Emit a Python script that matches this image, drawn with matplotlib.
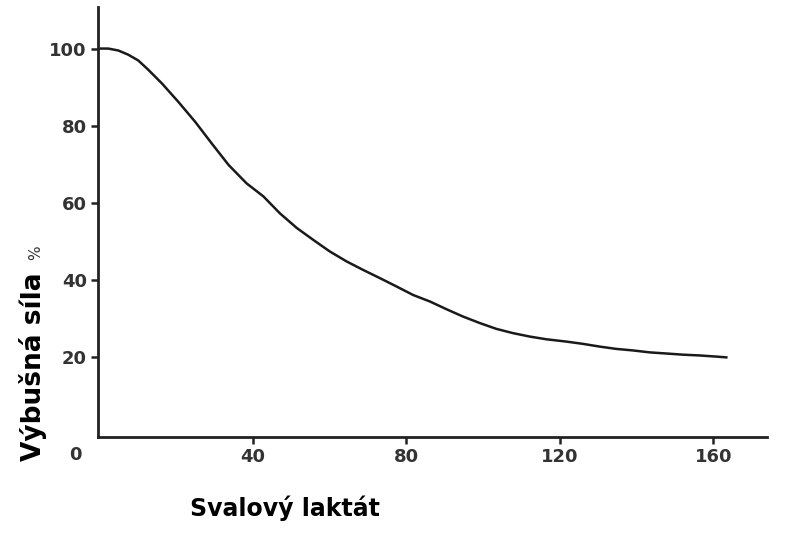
import matplotlib
matplotlib.use("Agg")
from matplotlib import pyplot as plt

# curve values
laktat = [0, 2.4, 5.0, 7.6, 10.2, 12.8, 16.3, 20.6, 25.0, 29.3, 33.7, 38.4, 42.8,
          47.1, 51.5, 55.8, 60.1, 64.5, 68.8, 73.1, 77.5, 81.8, 86.2, 90.5, 94.8,
          99.2, 103.5, 107.8, 112.2, 116.5, 121.7, 126.1, 130.4, 134.7, 139.1,
          143.4, 147.8, 152.1, 156.4, 160.8, 163.4]
sila = [100, 100.0, 99.5, 98.4, 96.9, 94.5, 91.0, 86.2, 81.0, 75.4, 69.8, 65.0, 61.6,
        57.2, 53.4, 50.3, 47.3, 44.7, 42.5, 40.4, 38.2, 36.0, 34.3, 32.3, 30.4,
        28.7, 27.2, 26.1, 25.2, 24.5, 23.9, 23.3, 22.6, 22.0, 21.6,
        21.1, 20.8, 20.5, 20.3, 20.0, 19.8]
xticks = [40, 80, 120, 160]
yticks = [20, 40, 60, 80, 100]

fig = plt.figure(figsize=(8, 5.33), dpi=100)
ax = fig.add_axes([0.1225, 0.1807, 0.83625, 0.8062])

ax.plot(laktat, sila, color='#1a1a1a', lw=1.8, solid_joinstyle='round')

ax.set_xlim(-0.3, 174)
ax.set_ylim(-0.8, 110.8)
for s in ['top', 'right']:
    ax.spines[s].set_visible(False)
for s in ['left', 'bottom']:
    ax.spines[s].set_linewidth(2)
    ax.spines[s].set_color('#222222')

ax.set_xticks(xticks)
ax.set_yticks(yticks)
ax.tick_params(axis='both', length=5, width=1.8, color='#222222',
               labelsize=13, labelcolor='#333333', pad=3)
for lab in ax.get_xticklabels() + ax.get_yticklabels():
    lab.set_fontweight('bold')

# the lone zero in the corner
fig.text(82 / 800, 1 - 455 / 533, '0', ha='right', va='center',
         fontsize=13, fontweight='bold', color='#333333')

fig.text(285 / 800, 1 - 508 / 533, 'Svalový laktát', ha='center', va='center',
         fontsize=17, fontweight='bold', color='black')
fig.text(33 / 800, 1 - 461 / 533, 'Výbušná síla', rotation=90, ha='center', va='bottom',
         fontsize=19, fontweight='bold', color='black')
fig.text(36 / 800, 1 - 260 / 533, '%', rotation=90, ha='center', va='bottom',
         fontsize=11, color='#333333')

fig.savefig('out.png', dpi=100)
